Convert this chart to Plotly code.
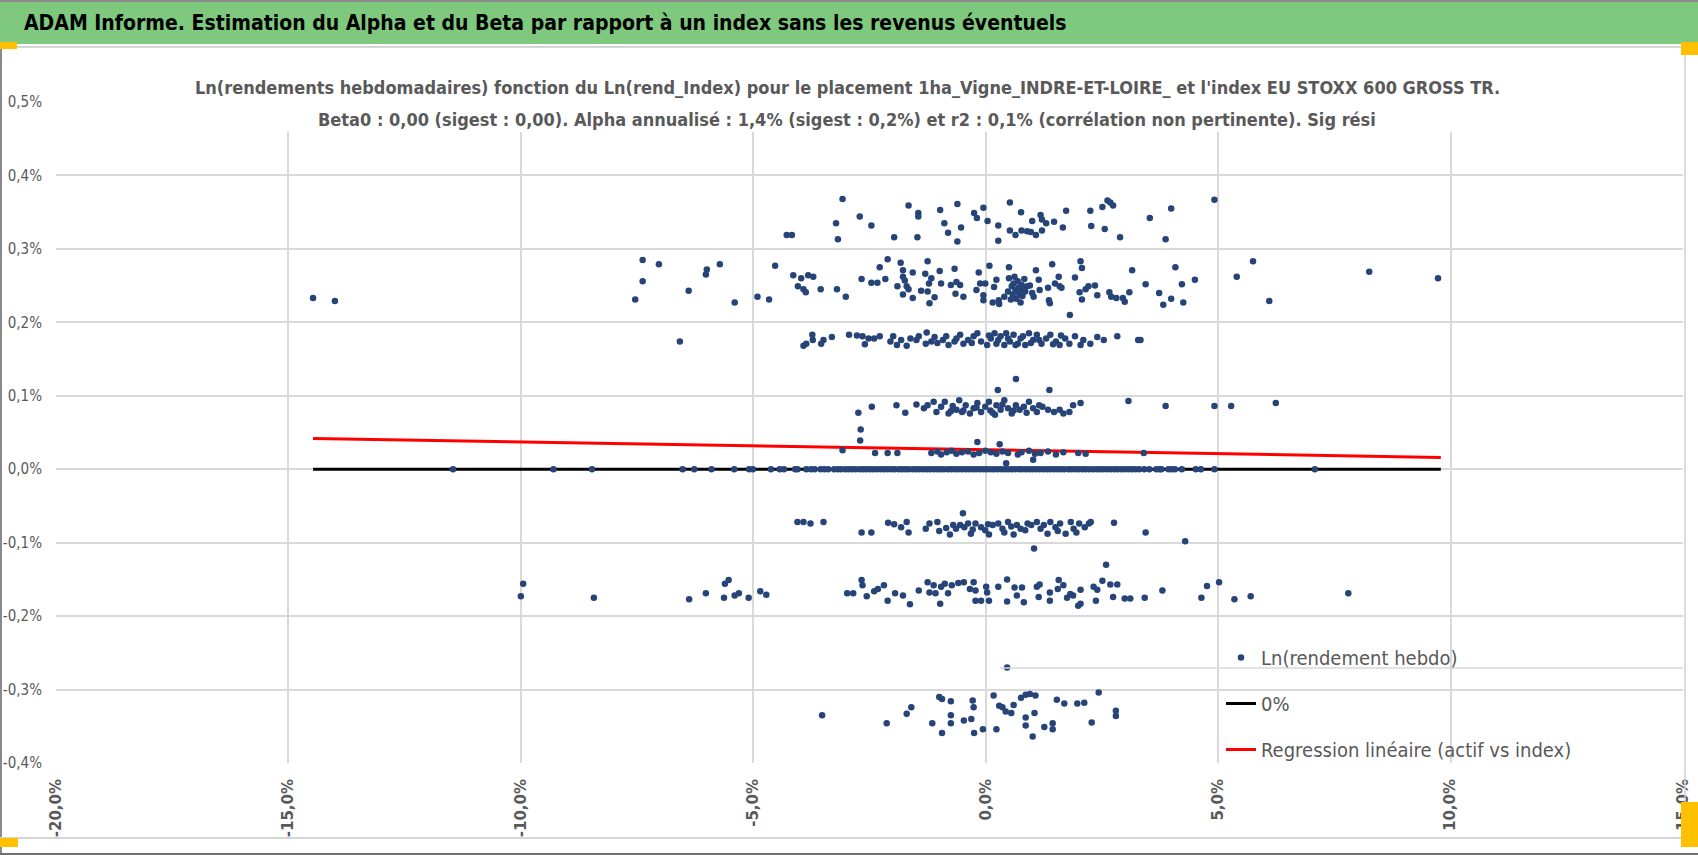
import plotly.graph_objects as go

# weekly log-returns of the asset (y, %) against the index (x, %)
band_top = [(-4.28, 0.319), (-4.17, 0.319), (-3.22, 0.335), (-3.18, 0.313), (-3.08, 0.368),
            (-2.71, 0.344), (-2.46, 0.332), (-1.97, 0.316), (-1.66, 0.359), (-1.45, 0.349),
            (-1.45, 0.344), (-1.47, 0.316), (-0.98, 0.353), (-0.89, 0.335), (-0.81, 0.322),
            (-0.61, 0.361), (-0.53, 0.329), (-0.61, 0.310), (-0.25, 0.349), (-0.19, 0.342),
            (-0.05, 0.356), (0.04, 0.338), (0.27, 0.332), (0.27, 0.311), (0.52, 0.363),
            (0.76, 0.350), (0.52, 0.325), (0.64, 0.319), (0.77, 0.325), (0.89, 0.324),
            (0.97, 0.323), (1.08, 0.319), (1.00, 0.338), (1.18, 0.346), (1.21, 0.340),
            (1.30, 0.335), (1.47, 0.337), (1.21, 0.325), (1.66, 0.329), (1.73, 0.352),
            (2.25, 0.352), (2.27, 0.331), (2.51, 0.357), (2.62, 0.366), (2.68, 0.363),
            (2.74, 0.359), (2.56, 0.327), (2.89, 0.316), (3.53, 0.342), (3.87, 0.313),
            (3.99, 0.355), (4.92, 0.367)]

band_b = [(-14.47, 0.233), (-14.00, 0.229), (-7.38, 0.285), (-7.38, 0.256), (-7.54, 0.231),
          (-7.03, 0.279), (-6.39, 0.243), (-6.02, 0.265), (-6.00, 0.272), (-5.72, 0.279),
          (-5.40, 0.227), (-4.91, 0.235), (-4.66, 0.231), (-4.53, 0.277), (-4.14, 0.264),
          (-3.97, 0.260), (-3.82, 0.264), (-3.71, 0.262), (-4.04, 0.249), (-3.92, 0.245),
          (-3.87, 0.241), (-3.55, 0.245), (-3.20, 0.245), (-3.01, 0.235), (-2.67, 0.259),
          (-2.46, 0.254), (-2.33, 0.254), (-2.16, 0.259), (-2.28, 0.275), (-2.11, 0.286),
          (-1.90, 0.249), (-1.83, 0.281), (-1.78, 0.271), (-1.78, 0.262), (-1.74, 0.257),
          (-1.70, 0.249), (-1.66, 0.245), (-1.57, 0.268), (-1.78, 0.238), (-1.57, 0.233),
          (-1.39, 0.243), (-1.30, 0.266), (-1.25, 0.283), (-1.22, 0.253), (-1.17, 0.260),
          (-1.25, 0.242), (-1.21, 0.226), (-1.10, 0.234), (-0.99, 0.270), (-0.96, 0.253),
          (-0.75, 0.251), (-0.67, 0.273), (-0.63, 0.255), (-0.55, 0.251), (-0.65, 0.239),
          (-0.48, 0.235), (-0.20, 0.244), (-0.15, 0.268), (-0.12, 0.253), (-0.05, 0.237),
          (-0.01, 0.253), (-0.05, 0.230), (0.08, 0.277), (0.18, 0.248), (0.15, 0.227),
          (0.28, 0.230), (0.23, 0.258), (0.29, 0.225), (0.40, 0.235), (0.48, 0.242),
          (0.50, 0.275), (0.50, 0.260), (0.56, 0.249), (0.60, 0.253), (0.64, 0.244),
          (0.69, 0.256), (0.73, 0.238), (0.75, 0.227), (0.77, 0.251), (0.83, 0.259),
          (0.85, 0.242), (0.89, 0.249), (0.58, 0.238), (0.66, 0.232), (0.71, 0.247),
          (0.79, 0.236), (0.62, 0.262), (0.54, 0.231), (0.81, 0.245), (0.70, 0.241),
          (0.95, 0.250), (1.00, 0.240), (1.08, 0.271), (1.14, 0.258), (1.03, 0.235),
          (1.16, 0.244), (1.34, 0.247), (1.36, 0.230), (1.38, 0.226), (1.43, 0.279),
          (1.49, 0.253), (1.57, 0.262), (1.59, 0.249), (1.63, 0.247), (1.81, 0.210),
          (1.92, 0.261), (2.04, 0.283), (2.07, 0.274), (2.02, 0.241), (2.07, 0.231),
          (2.15, 0.245), (2.21, 0.249), (2.35, 0.250), (2.40, 0.237), (2.66, 0.241),
          (2.70, 0.235), (2.81, 0.233), (2.95, 0.233), (2.99, 0.228), (3.09, 0.241),
          (3.15, 0.271), (3.44, 0.252), (3.73, 0.240), (3.82, 0.224), (3.99, 0.232),
          (4.25, 0.227), (4.22, 0.252), (4.50, 0.258), (4.08, 0.275), (5.40, 0.262),
          (5.75, 0.283), (6.10, 0.229), (8.25, 0.269), (9.73, 0.260)]

band_c = [(-6.58, 0.174), (-3.92, 0.168), (-3.86, 0.171), (-3.73, 0.183), (-3.72, 0.176),
          (-3.54, 0.171), (-3.49, 0.176), (-3.31, 0.180), (-2.94, 0.183), (-2.77, 0.182),
          (-2.65, 0.181), (-2.60, 0.170), (-2.52, 0.178), (-2.40, 0.178), (-2.28, 0.181),
          (-2.05, 0.174), (-1.99, 0.181), (-1.91, 0.169), (-1.82, 0.176), (-1.70, 0.168),
          (-1.62, 0.178), (-1.49, 0.176), (-1.44, 0.181), (-1.27, 0.186), (-1.29, 0.171),
          (-1.17, 0.174), (-1.10, 0.180), (-1.04, 0.172), (-0.92, 0.176), (-0.85, 0.181),
          (-0.80, 0.169), (-0.67, 0.174), (-0.63, 0.178), (-0.55, 0.183), (-0.48, 0.171),
          (-0.38, 0.176), (-0.30, 0.172), (-0.26, 0.181), (-0.18, 0.185), (-0.10, 0.174),
          (0.03, 0.169), (0.07, 0.182), (0.11, 0.178), (0.19, 0.185), (0.23, 0.171),
          (0.27, 0.176), (0.32, 0.181), (0.40, 0.169), (0.44, 0.185), (0.48, 0.178),
          (0.52, 0.174), (0.60, 0.183), (0.64, 0.169), (0.69, 0.171), (0.75, 0.178),
          (0.80, 0.181), (0.85, 0.169), (0.93, 0.185), (0.97, 0.172), (1.02, 0.176),
          (1.10, 0.183), (1.15, 0.176), (1.20, 0.171), (1.30, 0.178), (1.39, 0.183),
          (1.45, 0.170), (1.51, 0.174), (1.59, 0.169), (1.62, 0.182), (1.71, 0.178),
          (1.80, 0.171), (1.92, 0.181), (2.04, 0.169), (2.10, 0.176), (2.25, 0.171),
          (2.40, 0.180), (2.54, 0.176), (2.83, 0.181), (3.28, 0.176), (3.33, 0.176)]

band_d = [(0.65, 0.123), (0.26, 0.108), (1.37, 0.108), (3.07, 0.093), (-2.74, 0.077),
          (-2.45, 0.085), (-1.92, 0.087), (-1.73, 0.077), (-1.49, 0.088), (3.87, 0.086),
          (4.92, 0.086), (5.28, 0.086), (6.24, 0.090), (-1.33, 0.083), (-1.25, 0.087),
          (-1.12, 0.092), (-1.06, 0.078), (-0.96, 0.085), (-0.88, 0.092), (-0.80, 0.076),
          (-0.75, 0.079), (-0.71, 0.086), (-0.63, 0.081), (-0.57, 0.094), (-0.51, 0.078),
          (-0.48, 0.080), (-0.43, 0.087), (-0.34, 0.076), (-0.26, 0.083), (-0.20, 0.084),
          (-0.18, 0.090), (-0.10, 0.078), (-0.01, 0.085), (0.07, 0.092), (0.10, 0.080),
          (0.15, 0.077), (0.20, 0.074), (0.23, 0.087), (0.32, 0.081), (0.36, 0.088),
          (0.40, 0.094), (0.48, 0.083), (0.56, 0.076), (0.60, 0.080), (0.65, 0.087),
          (0.73, 0.081), (0.82, 0.085), (0.88, 0.077), (0.93, 0.092), (1.02, 0.083),
          (1.10, 0.078), (1.15, 0.087), (1.22, 0.085), (1.34, 0.081), (1.47, 0.078),
          (1.59, 0.081), (1.67, 0.076), (1.80, 0.078), (1.88, 0.087), (2.04, 0.090)]

band_e = [(-2.69, 0.054), (-2.70, 0.039), (-3.08, 0.026), (-2.38, 0.022), (-2.11, 0.022),
          (-1.90, 0.022), (-0.18, 0.037), (0.30, 0.034), (1.02, 0.013), (0.44, 0.008),
          (3.40, 0.022), (-1.17, 0.022), (-1.04, 0.024), (-0.96, 0.020), (-0.84, 0.023),
          (-0.73, 0.025), (-0.63, 0.021), (-0.51, 0.023), (-0.38, 0.024), (-0.26, 0.020),
          (-0.14, 0.022), (-0.01, 0.025), (0.11, 0.023), (0.23, 0.021), (0.36, 0.024),
          (0.48, 0.022), (0.69, 0.020), (0.77, 0.023), (0.93, 0.025), (1.06, 0.021),
          (1.18, 0.022), (1.34, 0.024), (1.51, 0.020), (1.67, 0.023), (1.99, 0.022),
          (2.15, 0.021)]

# weeks with a null return for the asset
zero_x = [-11.46, -9.30, -8.47, -6.52, -6.27, -5.90, -5.41, -5.09, -5.01, -4.62, -4.43,
          -4.34, -4.10, -4.05, -3.86, -3.76, -3.68, -3.55, -3.47, -3.39, -3.26, -3.18,
          -3.11, -3.02, -2.95, -2.88, -2.80, -2.71, -2.64, -2.57, -2.49, -2.42, -2.34,
          -2.26, -2.19, -2.11, -2.03, -1.96, -1.87, -1.80, -1.73, -1.66, -1.57, -1.50,
          -1.43, -1.35, -1.27, -1.20, -1.12, -1.04, -0.97, -0.90, -0.81, -0.74, -0.66,
          -0.59, -0.51, -0.43, -0.36, -0.28, -0.21, -0.13, -0.05, 0.02, 0.10, 0.17,
          0.25, 0.33, 0.41, 0.48, 0.56, 0.63, 0.71, 0.78, 0.86, 0.94, 1.01, 1.09, 1.16,
          1.24, 1.32, 1.39, 1.47, 1.55, 1.62, 1.69, 1.78, 1.85, 1.93, 2.00, 2.08, 2.15,
          2.23, 2.31, 2.39, 2.46, 2.53, 2.61, 2.69, 2.77, 2.84, 2.92, 2.99, 3.07, 3.15,
          3.22, 3.30, 3.41, 3.52, 3.67, 3.74, 3.78, 3.93, 4.00, 4.07, 4.22, 4.52, 4.63,
          4.92, 7.08]

band_g = [(-0.49, -0.060), (1.04, -0.108), (-4.05, -0.072), (-3.92, -0.072), (-3.77, -0.074),
          (-3.49, -0.072), (-2.67, -0.086), (-2.46, -0.086), (-2.10, -0.073), (-1.97, -0.075),
          (-1.82, -0.079), (-1.70, -0.072), (-1.66, -0.086), (-1.29, -0.081), (-1.21, -0.074),
          (-1.04, -0.072), (-1.00, -0.084), (-0.85, -0.080), (-0.77, -0.089), (-0.70, -0.076),
          (-0.64, -0.081), (-0.55, -0.076), (-0.46, -0.079), (-0.38, -0.074), (-0.32, -0.088),
          (-0.28, -0.082), (-0.22, -0.074), (-0.10, -0.079), (-0.01, -0.083), (0.05, -0.075),
          (0.07, -0.089), (0.15, -0.076), (0.27, -0.074), (0.36, -0.081), (0.40, -0.086),
          (0.48, -0.072), (0.55, -0.078), (0.60, -0.089), (0.67, -0.076), (0.75, -0.081),
          (0.85, -0.083), (0.90, -0.074), (0.98, -0.076), (1.10, -0.072), (1.18, -0.081),
          (1.25, -0.076), (1.33, -0.088), (1.39, -0.072), (1.50, -0.079), (1.55, -0.084),
          (1.60, -0.074), (1.72, -0.088), (1.83, -0.072), (1.89, -0.081), (1.95, -0.086),
          (2.01, -0.074), (2.13, -0.079), (2.22, -0.074), (2.26, -0.072), (2.76, -0.073),
          (3.44, -0.086), (4.29, -0.098)]

band_h = [(-10.00, -0.173), (-9.95, -0.156), (-8.43, -0.175), (-6.38, -0.177), (-6.02, -0.169),
          (-5.63, -0.175), (-5.61, -0.156), (-5.53, -0.151), (-5.40, -0.172), (-5.31, -0.169),
          (-5.10, -0.175), (-4.85, -0.166), (-4.72, -0.171), (-2.98, -0.169), (-2.85, -0.169),
          (-2.67, -0.151), (-2.65, -0.158), (-2.56, -0.173), (-2.40, -0.166), (-2.32, -0.163),
          (-2.19, -0.158), (-2.11, -0.179), (-1.95, -0.169), (-1.78, -0.172), (-1.63, -0.184),
          (-1.44, -0.165), (-1.25, -0.154), (-1.21, -0.168), (-1.12, -0.158), (-1.08, -0.169),
          (-0.98, -0.183), (-0.96, -0.160), (-0.88, -0.156), (-0.81, -0.169), (-0.73, -0.158),
          (-0.59, -0.155), (-0.47, -0.154), (-0.34, -0.163), (-0.26, -0.154), (-0.22, -0.179),
          (-0.10, -0.179), (0.07, -0.179), (-0.22, -0.165), (0.01, -0.160), (0.03, -0.168),
          (0.27, -0.160), (0.46, -0.150), (0.46, -0.180), (0.62, -0.161), (0.67, -0.172),
          (0.78, -0.161), (0.82, -0.181), (1.10, -0.160), (1.16, -0.157), (1.14, -0.174),
          (1.38, -0.168), (1.38, -0.179), (1.55, -0.163), (1.57, -0.151), (1.67, -0.158),
          (1.75, -0.175), (1.82, -0.170), (1.88, -0.172), (1.99, -0.186), (2.04, -0.183),
          (2.04, -0.164), (2.32, -0.160), (2.37, -0.179), (2.40, -0.164), (2.51, -0.152),
          (2.59, -0.130), (2.68, -0.157), (2.74, -0.174), (2.83, -0.157), (2.99, -0.176),
          (3.11, -0.176), (3.42, -0.175), (3.80, -0.165), (4.64, -0.175), (4.76, -0.159),
          (5.02, -0.154), (5.35, -0.177), (5.70, -0.173), (7.80, -0.169)]

band_low = [(-3.52, -0.335), (-2.13, -0.346), (-1.70, -0.333), (-1.60, -0.324), (-1.15, -0.346),
            (-0.94, -0.359), (-1.00, -0.310), (-0.94, -0.313), (-0.75, -0.316), (-0.75, -0.335),
            (-0.75, -0.346), (-0.47, -0.342), (-0.31, -0.340), (-0.28, -0.315), (-0.26, -0.324),
            (-0.25, -0.359), (-0.06, -0.354), (0.23, -0.354), (0.17, -0.308), (0.29, -0.322),
            (0.36, -0.324), (0.43, -0.330), (0.55, -0.332), (0.60, -0.321), (0.76, -0.311),
            (0.86, -0.307), (0.95, -0.306), (1.07, -0.308), (0.86, -0.338), (0.86, -0.349),
            (1.01, -0.364), (1.05, -0.332), (1.26, -0.351), (1.44, -0.346), (1.44, -0.354),
            (1.53, -0.314), (1.69, -0.319), (1.97, -0.319), (2.12, -0.318), (2.28, -0.345),
            (2.43, -0.304), (2.80, -0.329), (2.80, -0.336), (0.46, -0.270)]

# 0% reference and fitted regression line, drawn across the index range
line_x = [-14.47, 9.79]
zero_y = [0.0, 0.0]
reg_y = [0.042, 0.016]

x_ticks = [-20, -15, -10, -5, 0, 5, 10, 15]
x_labels = ["-20,0%", "-15,0%", "-10,0%", "-5,0%", "0,0%", "5,0%", "10,0%", "15,0%"]
y_ticks = [-0.4, -0.3, -0.2, -0.1, 0.0, 0.1, 0.2, 0.3, 0.4, 0.5]
y_labels = ["-0,4%", "-0,3%", "-0,2%", "-0,1%", "0,0%", "0,1%", "0,2%", "0,3%", "0,4%", "0,5%"]

title = "ADAM Informe. Estimation du Alpha et du Beta par rapport à un index sans les revenus éventuels"
subtitle_1 = ("Ln(rendements hebdomadaires) fonction du Ln(rend_Index) pour le placement "
              "1ha_Vigne_INDRE-ET-LOIRE_ et l'index EU STOXX 600 GROSS TR.")
subtitle_2 = ("Beta0 : 0,00 (sigest : 0,00). Alpha annualisé : 1,4% (sigest : 0,2%) et r2 : 0,1% "
              "(corrélation non pertinente). Sig rési")

pts = band_top + band_b + band_c + band_d + band_e + band_g + band_h + band_low
pts_x = [p[0] for p in pts] + zero_x
pts_y = [p[1] for p in pts] + [0.0] * len(zero_x)

W, H = 1698, 855
L, R, T, B = 56, 1683, 102, 763
NARROW = "Liberation Sans Narrow, DejaVu Sans Condensed, Roboto, sans-serif"
GREY = "#595959"


def px(x):
    return (x - L) / (R - L)


def py(y):
    return (B - y) / (B - T)


fig = go.Figure()
fig.add_trace(go.Scatter(x=line_x, y=zero_y, mode="lines", name="0%",
                         line=dict(color="black", width=3), legendrank=2, legendgroup="b"))
fig.add_trace(go.Scatter(x=line_x, y=reg_y, mode="lines", name="Regression linéaire (actif vs index)",
                         line=dict(color="#ff0000", width=3), legendrank=3, legendgroup="c"))
fig.add_trace(go.Scatter(x=pts_x, y=pts_y, mode="markers", name="Ln(rendement hebdo)",
                         marker=dict(color="#264478", size=6.5), legendrank=1, legendgroup="a"))

shapes = [
    dict(type="rect", x0=px(0), x1=px(W), y0=py(44), y1=py(2), fillcolor="#7ec97e", line_width=0),
    dict(type="line", x0=px(0), x1=px(W), y0=py(1), y1=py(1), line=dict(color="#8a8a8a", width=2)),
    dict(type="line", x0=px(0), x1=px(W), y0=py(47), y1=py(47), line=dict(color="#d6d6d6", width=2)),
    dict(type="line", x0=px(1), x1=px(1), y0=py(44), y1=py(854), line=dict(color="#8a8a8a", width=2)),
    dict(type="line", x0=px(R + 2), x1=px(R + 2), y0=py(44), y1=py(837), line=dict(color="#d0d0d0", width=1.5)),
    dict(type="line", x0=px(0), x1=px(R + 2), y0=py(838), y1=py(838), line=dict(color="#d6d6d6", width=2)),
    dict(type="line", x0=px(0), x1=px(W), y0=py(854), y1=py(854), line=dict(color="#707070", width=2)),
    dict(type="line", x0=px(1000), x1=px(R), y0=py(668), y1=py(668), line=dict(color="#d9d9d9", width=1.5)),
    dict(type="rect", x0=px(190), x1=px(1504), y0=py(132), y1=py(62), fillcolor="white", line_width=0),
    dict(type="rect", x0=px(0), x1=px(17), y0=py(49), y1=py(42), fillcolor="#ffc000", line_width=0),
    dict(type="rect", x0=px(1681), x1=px(W), y0=py(55), y1=py(42), fillcolor="#ffc000", line_width=0),
    dict(type="rect", x0=px(0), x1=px(18), y0=py(847), y1=py(838), fillcolor="#ffc000", line_width=0),
    dict(type="rect", x0=px(1681), x1=px(W), y0=py(847), y1=py(802), fillcolor="#ffc000", line_width=0),
]
for s in shapes:
    s.update(xref="paper", yref="paper", layer="above")


def note(text, x, y, size, color, anchor="center"):
    return dict(text=text, x=px(x), y=py(y), xref="paper", yref="paper", xanchor=anchor,
                yanchor="middle", showarrow=False,
                font=dict(family=NARROW, size=size, color=color, weight="bold"))


fig.update_layout(
    width=W, height=H,
    margin=dict(l=L, r=W - R, t=T, b=H - B, pad=0),
    paper_bgcolor="white", plot_bgcolor="white",
    font=dict(family=NARROW, color=GREY),
    shapes=shapes,
    showlegend=True,
    legend=dict(x=px(1221), y=py(638), xanchor="left", yanchor="top",
                font=dict(family=NARROW, size=20, color=GREY),
                bgcolor="rgba(0,0,0,0)", tracegroupgap=17, traceorder="grouped"),
    annotations=[
        note(title, 22, 23, 21, "black", anchor="left"),
        note(subtitle_1, 847, 87, 18, GREY),
        note(subtitle_2, 847, 119, 18, GREY),
    ],
    xaxis=dict(range=[-20, 15], tickvals=x_ticks, ticktext=x_labels, tickangle=-90,
               tickfont=dict(family="DejaVu Sans", size=15, color=GREY, weight="bold"),
               showgrid=True, gridcolor="#d9d9d9", gridwidth=1.5, zeroline=False,
               showline=False, ticks="", ticklabelstandoff=12, automargin=False),
    yaxis=dict(range=[-0.4, 0.5], tickvals=y_ticks, ticktext=y_labels,
               tickfont=dict(family=NARROW, size=15, color=GREY),
               showgrid=True, gridcolor="#d9d9d9", gridwidth=1.5, zeroline=False,
               showline=False, ticks="", ticklabelstandoff=13, automargin=False),
)

fig.write_html("out.html", config={"displayModeBar": False},
               post_script="document.body.style.margin='0px';")
